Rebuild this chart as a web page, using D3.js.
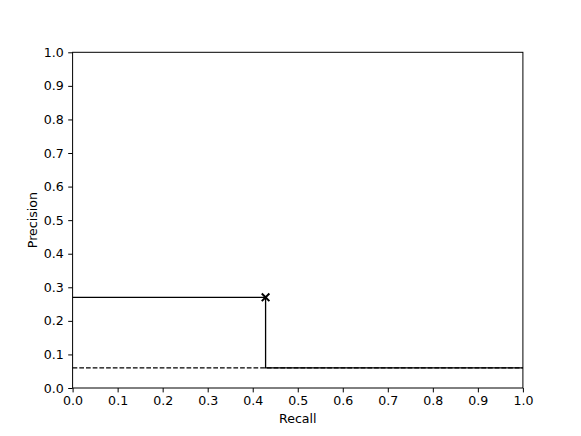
<!DOCTYPE html>
<html>
<head>
<meta charset="utf-8">
<script src="https://cdn.jsdelivr.net/npm/d3@7"></script>
<style>
  body { margin: 0; background: #fff; }
  svg { display: block; font-family: "DejaVu Sans", sans-serif; }
</style>
</head>
<body>
<svg id="chart" width="581" height="436"></svg>
<script>
// precision-recall step curve
const recall = [0.0, 3 / 7, 3 / 7, 1.0];
const precision = [0.27, 0.27, 0.06, 0.06];
const baseline = 0.06;           // dashed "no skill" line
const bestPoint = [3 / 7, 0.27]; // marked with an x
const xTicks = [0, 0.1, 0.2, 0.3, 0.4, 0.5, 0.6, 0.7, 0.8, 0.9, 1.0];
const yTicks = [0, 0.1, 0.2, 0.3, 0.4, 0.5, 0.6, 0.7, 0.8, 0.9, 1.0];

const width = 581, height = 436;
const margin = { left: 72.6, right: width - 522.9, top: 52.3, bottom: height - 388 };

const svg = d3.select("#chart");

const x = d3.scaleLinear().domain([0, 1]).range([margin.left, width - margin.right]);
const y = d3.scaleLinear().domain([0, 1]).range([height - margin.bottom, margin.top]);

const fmt = d3.format(".1f");

// dashed baseline
svg.append("line")
    .attr("x1", x(0)).attr("x2", x(1))
    .attr("y1", y(baseline)).attr("y2", y(baseline))
    .attr("stroke", "#000")
    .attr("stroke-width", 1.3)
    .attr("stroke-dasharray", "4.7,2");

// step curve
const pts = recall.map((r, i) => [r, precision[i]]);
svg.append("path")
    .datum(pts)
    .attr("fill", "none")
    .attr("stroke", "#000")
    .attr("stroke-width", 1.3)
    .attr("d", d3.line().x(d => x(d[0])).y(d => y(d[1])));

// x marker
const s = 3.8;
svg.append("path")
    .attr("transform", `translate(${x(bestPoint[0])},${y(bestPoint[1])})`)
    .attr("d", `M${-s},${-s}L${s},${s}M${-s},${s}L${s},${-s}`)
    .attr("stroke", "#000")
    .attr("stroke-width", 2);

// axes
const xAxis = svg.append("g")
    .attr("transform", `translate(0,${y(0)})`)
    .call(d3.axisBottom(x).tickValues(xTicks).tickFormat(fmt).tickSize(4.4).tickPadding(4));
const yAxis = svg.append("g")
    .attr("transform", `translate(${x(0)},0)`)
    .call(d3.axisLeft(y).tickValues(yTicks).tickFormat(fmt).tickSize(4.4).tickPadding(4.4));

[xAxis, yAxis].forEach(g => {
  g.select(".domain").remove();
  g.selectAll("text").attr("font-size", 12.6).attr("font-family", "DejaVu Sans").attr("fill", "#000");
  g.selectAll("line").attr("stroke", "#000").attr("stroke-width", 1);
});

// frame
svg.append("rect")
    .attr("x", x(0)).attr("y", y(1))
    .attr("width", x(1) - x(0)).attr("height", y(0) - y(1))
    .attr("fill", "none")
    .attr("stroke", "#000")
    .attr("stroke-width", 1);

// labels
svg.append("text")
    .attr("x", (x(0) + x(1)) / 2).attr("y", 423)
    .attr("text-anchor", "middle")
    .attr("font-size", 12.6)
    .text("Recall");
svg.append("text")
    .attr("transform", `translate(37,${(y(0) + y(1)) / 2}) rotate(-90)`)
    .attr("text-anchor", "middle")
    .attr("font-size", 12.6)
    .text("Precision");
</script>
</body>
</html>
